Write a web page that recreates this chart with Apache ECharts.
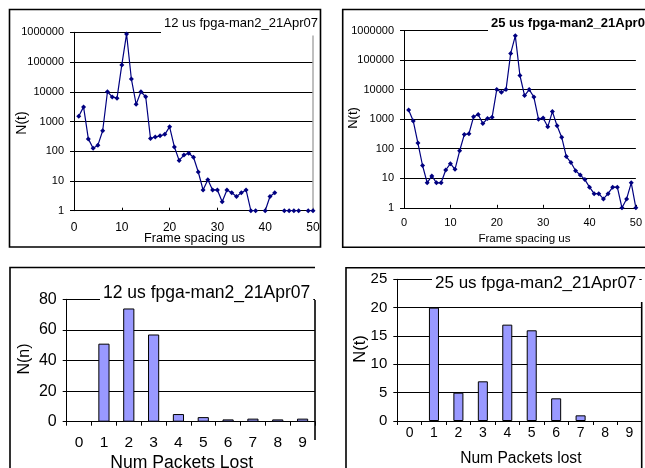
<!DOCTYPE html>
<html>
<head>
<meta charset="utf-8">
<script src="https://cdn.jsdelivr.net/npm/echarts@6/dist/echarts.min.js"></script>
<style>
html,body{margin:0;padding:0;background:#fff;}
#c{width:645px;height:468px;}
</style>
</head>
<body>
<div id="c"></div>
<script>
// ---- data ----
const frameSpacing = [1,2,3,4,5,6,7,8,9,10,11,12,13,14,15,16,17,18,19,20,21,22,23,24,25,26,27,28,29,30,31,32,33,34,35,36,37,38,39,40,41,42,43,44,45,46,47,48,49,50];
const nt12us = [1500,3100,260,125,160,490,10000,6700,6100,80000,880000,27000,3800,10000,6800,270,300,330,370,660,140,49,74,86,63,20,5,11,5,5,2,5,4,3,4,5,1,1,null,1,3,4,null,1,1,1,1,null,1,1];
const nt25us = [2050,860,155,27,7,12,7,7,19,31,20,85,300,320,1200,1440,710,1050,1170,10000,8100,10000,167000,660000,30000,6300,10000,5600,1000,1100,550,1800,600,245,54,34,18,13,9,5,3,3,2,3,5,5,1,2,7,1];
const packetsLost = ['0','1','2','3','4','5','6','7','8','9'];
const nn12us = [0,51,74,57,5,3,1.5,2,1.5,2];
const nn25us = [0,20,5,7,17,16,4,1,0,0];
const titles = ['12 us fpga-man2_21Apr07','25 us fpga-man2_21Apr07'];

const FF = "'Liberation Sans', Arial, sans-serif";
const pairs = (xs, ys) => xs.map((x, i) => [x, ys[i] == null ? '-' : ys[i]]);
const bars = ys => ys.map(v => v === 0 ? '-' : v);
const logFmt = v => String(Math.round(v));

const lineSeries = (idx, data) => ({
  type: 'line', xAxisIndex: idx, yAxisIndex: idx, data: data,
  connectNulls: false, symbol: 'diamond', symbolSize: 5,
  lineStyle: {color: '#000080', width: 1.2},
  itemStyle: {color: '#000080'},
  emphasis: {disabled: true}
});
const barSeries = (idx, data, w) => ({
  type: 'bar', xAxisIndex: idx, yAxisIndex: idx, data: data, barWidth: w,
  itemStyle: {color: '#9999FF', borderColor: '#000', borderWidth: 1},
  emphasis: {disabled: true}
});
const axLine = {show: true, lineStyle: {color: '#000', width: 1}};
const grid = {show: true, lineStyle: {color: '#000', width: 1}};

const chart = echarts.init(document.getElementById('c'));
const option = {
  animation: false,
  backgroundColor: '#fff',
  title: [
    {text: titles[0], left: 161, top: 13.5, padding: [2,3,5,3], backgroundColor: '#fff',
     textStyle: {fontFamily: FF, fontSize: 13, fontWeight: 'normal', color: '#000', lineHeight: 15}},
    {text: titles[1], left: 488, top: 13.5, padding: [2,3,2,3], backgroundColor: '#fff',
     textStyle: {fontFamily: FF, fontSize: 13, fontWeight: 'bold', color: '#000', lineHeight: 15}},
    {text: titles[0], left: 100, top: 281.3, padding: [2,3,2,3], backgroundColor: '#fff',
     textStyle: {fontFamily: FF, fontSize: 17.5, fontWeight: 'normal', color: '#000', lineHeight: 20}},
    {text: titles[1], left: 432, top: 271.3, padding: [2,3,2,3], backgroundColor: '#fff',
     textStyle: {fontFamily: FF, fontSize: 17, fontWeight: 'normal', color: '#000', lineHeight: 20}}
  ],
  grid: [
    {left: 74, top: 32.3, width: 239, height: 178.4},
    {left: 404, top: 30.5, width: 241, height: 177.3},
    {left: 66.7, top: 299.3, width: 248.3, height: 122.4},
    {left: 397.3, top: 279.3, width: 244.4, height: 141.7}
  ],
  xAxis: [
    {gridIndex: 0, type: 'value', min: 0, max: 50, interval: 10, axisLine: axLine,
     axisTick: {show: true, inside: true, length: 3, lineStyle: {color: '#000'}},
     axisLabel: {color: '#000', fontFamily: FF, fontSize: 12, margin: 11},
     splitLine: {show: false}},
    {gridIndex: 1, type: 'value', min: 0, max: 50, interval: 10, axisLine: axLine,
     axisTick: {show: true, inside: true, length: 3, lineStyle: {color: '#000'}},
     axisLabel: {color: '#000', fontFamily: FF, fontSize: 11, margin: 10},
     splitLine: {show: false}},
    {gridIndex: 2, type: 'category', data: packetsLost, boundaryGap: true, axisLine: axLine,
     axisTick: {show: true, length: 4, lineStyle: {color: '#000'}},
     axisLabel: {color: '#000', fontFamily: FF, fontSize: 15.5, margin: 13},
     splitLine: {show: false}},
    {gridIndex: 3, type: 'category', data: packetsLost, boundaryGap: true, axisLine: axLine,
     axisTick: {show: true, length: 4, lineStyle: {color: '#000'}},
     axisLabel: {color: '#000', fontFamily: FF, fontSize: 14, margin: 5},
     splitLine: {show: false}}
  ],
  yAxis: [
    {gridIndex: 0, type: 'log', logBase: 10, min: 1, max: 1000000, axisLine: axLine,
     axisTick: {show: true, length: 4, lineStyle: {color: '#000'}},
     axisLabel: {color: '#000', fontFamily: FF, fontSize: 11, margin: 10, formatter: logFmt},
     splitLine: grid, minorTick: {show: false}},
    {gridIndex: 1, type: 'log', logBase: 10, min: 1, max: 1000000, axisLine: axLine,
     axisTick: {show: true, length: 4, lineStyle: {color: '#000'}},
     axisLabel: {color: '#000', fontFamily: FF, fontSize: 11, margin: 10, formatter: logFmt},
     splitLine: grid, minorTick: {show: false}},
    {gridIndex: 2, type: 'value', min: 0, max: 80, interval: 20, axisLine: axLine,
     axisTick: {show: true, length: 4, lineStyle: {color: '#000'}},
     axisLabel: {color: '#000', fontFamily: FF, fontSize: 16, margin: 10},
     splitLine: grid},
    {gridIndex: 3, type: 'value', min: 0, max: 25, interval: 5, axisLine: axLine,
     axisTick: {show: true, length: 4, lineStyle: {color: '#000'}},
     axisLabel: {color: '#000', fontFamily: FF, fontSize: 15, margin: 10},
     splitLine: grid}
  ],
  series: [
    lineSeries(0, pairs(frameSpacing, nt12us)),
    lineSeries(1, pairs(frameSpacing, nt25us)),
    barSeries(2, bars(nn12us), '45%'),
    barSeries(3, bars(nn25us), '41%')
  ],
  graphic: [
    // chart frames
    {type: 'rect', z: 100, shape: {x: 9.5, y: 9.5, width: 311, height: 237.5}, style: {fill: null, stroke: '#000', lineWidth: 1.6}},
    {type: 'polyline', z: 100, shape: {points: [[660, 9.5], [342.7, 9.5], [342.7, 247.3], [660, 247.3]]}, style: {fill: null, stroke: '#000', lineWidth: 1.6}},
    {type: 'polyline', z: 100, shape: {points: [[10, 480], [10, 267.5], [315, 267.5]]}, style: {fill: null, stroke: '#000', lineWidth: 1.6}},
    {type: 'line', z: 100, shape: {x1: 315, y1: 300, x2: 315, y2: 440}, style: {stroke: '#000', lineWidth: 1.6}},
    {type: 'polyline', z: 100, shape: {points: [[346, 480], [346, 267.7], [645, 267.7]]}, style: {fill: null, stroke: '#000', lineWidth: 1.6}},
    {type: 'line', z: 100, shape: {x1: 641.7, y1: 302, x2: 641.7, y2: 470}, style: {stroke: '#000', lineWidth: 1.6}},
    // plot edge (top-left)
    {type: 'line', z: 1, shape: {x1: 313, y1: 32.3, x2: 313, y2: 210.7}, style: {stroke: '#aaa', lineWidth: 1.5}},
    // axis names
    {type: 'text', x: 22, y: 123, rotation: Math.PI / 2, style: {text: 'N(t)', fontFamily: FF, fontSize: 14, fill: '#000', align: 'center', verticalAlign: 'middle'}},
    {type: 'text', x: 353, y: 118, rotation: Math.PI / 2, style: {text: 'N(t)', fontFamily: FF, fontSize: 13, fill: '#000', align: 'center', verticalAlign: 'middle'}},
    {type: 'text', x: 25, y: 359, rotation: Math.PI / 2, style: {text: 'N(n)', fontFamily: FF, fontSize: 16, fill: '#000', align: 'center', verticalAlign: 'middle'}},
    {type: 'text', x: 360, y: 349, rotation: Math.PI / 2, style: {text: 'N(t)', fontFamily: FF, fontSize: 16.5, fill: '#000', align: 'center', verticalAlign: 'middle'}},
    {type: 'text', x: 194.5, y: 238, style: {text: 'Frame spacing us', fontFamily: FF, fontSize: 12.7, fill: '#000', align: 'center', verticalAlign: 'middle'}},
    {type: 'text', x: 524.5, y: 238.3, style: {text: 'Frame spacing us', fontFamily: FF, fontSize: 11.6, fill: '#000', align: 'center', verticalAlign: 'middle'}},
    {type: 'text', x: 181.7, y: 462.7, style: {text: 'Num Packets Lost', fontFamily: FF, fontSize: 17.6, fill: '#000', align: 'center', verticalAlign: 'middle'}},
    {type: 'text', x: 520.8, y: 458.3, style: {text: 'Num Packets lost', fontFamily: FF, fontSize: 15.6, fill: '#000', align: 'center', verticalAlign: 'middle'}}
  ]
};
chart.setOption(option);
</script>
</body>
</html>
